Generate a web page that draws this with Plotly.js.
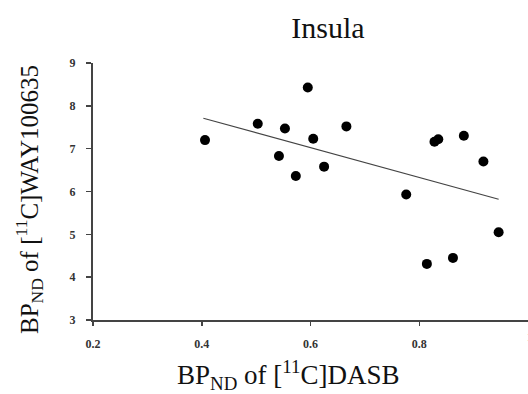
<!DOCTYPE html>
<html>
<head>
<meta charset="utf-8">
<script src="https://cdn.plot.ly/plotly-3.0.1.min.js"></script>
<style>html,body{margin:0;padding:0;background:#fff;}#chart{width:528px;height:394px;}</style>
</head>
<body>
<div id="chart"></div>
<script>
const dasb = [0.406, 0.503, 0.553, 0.595, 0.666, 0.605, 0.542, 0.625, 0.573, 0.828, 0.835, 0.882, 0.918, 0.776, 0.946, 0.862, 0.814];
const way = [7.20, 7.58, 7.47, 8.43, 7.52, 7.23, 6.83, 6.58, 6.36, 7.16, 7.22, 7.30, 6.70, 5.93, 5.05, 4.45, 4.31];
const fitX = [0.403, 0.946];
const fitY = [7.71, 5.82];
const xTickVals = [0.2, 0.4, 0.6, 0.8, 1.0];
const xTickText = ['0.2', '0.4', '0.6', '0.8', '1'];
const titleText = 'Insula';
const xTitle = 'BP<sub>ND</sub> of [<sup>11</sup>C]DASB';
const yTitle = 'BP<sub>ND</sub> of [<sup>11</sup>C]WAY100635';

const serif = 'Liberation Serif, Times New Roman, serif';
const data = [
  {x: fitX, y: fitY, type: 'scatter', mode: 'lines', line: {color: '#444', width: 1.2}, hoverinfo: 'skip', showlegend: false},
  {x: dasb, y: way, type: 'scatter', mode: 'markers', marker: {color: '#000', size: 10}, showlegend: false}
];
const tickFont = {family: serif, size: 12, color: '#333', weight: 'bold'};
const titleFont = {family: serif, size: 27, color: '#111'};
const layout = {
  width: 528, height: 394,
  margin: {l: 93, r: 0, t: 63, b: 74},
  paper_bgcolor: '#fff', plot_bgcolor: '#fff',
  font: {family: serif},
  title: {text: titleText, font: {family: serif, size: 30, color: '#111'}, xref: 'container', x: 328/528, xanchor: 'center', yref: 'container', y: 1 - 27/394, yanchor: 'middle'},
  xaxis: {
    range: [0.2, 1.0], tickvals: xTickVals.slice(0, 4), ticktext: xTickText.slice(0, 4),
    showgrid: false, zeroline: false,
    showline: true, linecolor: '#444', linewidth: 2,
    ticks: 'outside', ticklen: 4, tickcolor: '#444', tickwidth: 1.5,
    ticklabelstandoff: 8,
    tickfont: tickFont,
    automargin: false
  },
  yaxis: {
    range: [3, 9], dtick: 1,
    showgrid: false, zeroline: false,
    showline: true, linecolor: '#444', linewidth: 2,
    ticks: 'outside', ticklen: 5, tickcolor: '#444', tickwidth: 1.5,
    ticklabelstandoff: 8,
    tickfont: tickFont,
    automargin: false
  },
  annotations: [
    {xref: 'x', yref: 'paper', x: xTickVals[4], y: 0, yshift: -17, text: xTickText[4],
     showarrow: false, xanchor: 'left', yanchor: 'middle', xshift: -3, font: tickFont},
    {xref: 'paper', yref: 'paper', x: (288 - 93) / 435, y: 0, yshift: -55, text: xTitle,
     showarrow: false, xanchor: 'center', yanchor: 'middle', font: titleFont},
    {xref: 'paper', yref: 'paper', x: 0, xshift: -64, y: (320 - 200) / 257, text: yTitle, textangle: -90,
     showarrow: false, xanchor: 'center', yanchor: 'middle', font: {family: serif, size: 25, color: '#111'}}
  ]
};
Plotly.newPlot('chart', data, layout, {displayModeBar: false, staticPlot: true});
</script>
</body>
</html>
